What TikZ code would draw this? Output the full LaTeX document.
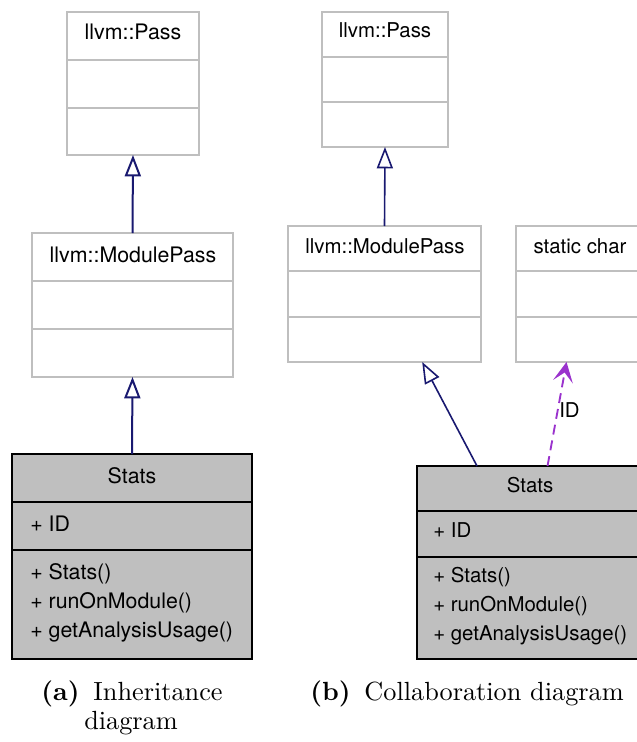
\documentclass[tikz,border=0pt]{standalone}
\usepackage{fontspec}
\usepackage{xcolor}
\usepackage{tikz}
\usetikzlibrary{arrows.meta}
\newfontfamily\helvfont{TeX Gyre Heros}
\newfontfamily\capfont{lmroman10-regular}[Extension=.otf, BoldFont=lmroman10-bold]
\definecolor{inhblue}{HTML}{191970}
\definecolor{usepurple}{HTML}{9A32CD}
\definecolor{boxgray}{HTML}{BFBFBF}

\begin{document}
\begin{tikzpicture}[x=0.75pt, y=-0.75pt,
    classbox/.style={draw=boxgray, line width=1.5pt, inner sep=0pt, outer sep=0pt, anchor=north west},
    thisbox/.style={classbox, draw=black, fill=boxgray},
    grayline/.style={draw=boxgray, line width=1.5pt},
    blackline/.style={draw=black, line width=1.5pt},
    bigtext/.style={font=\helvfont\fontsize{16}{19}\selectfont, inner sep=0pt},
    smalltext/.style={font=\helvfont\fontsize{15.3}{18}\selectfont, inner sep=0pt},
    inherit/.style={draw=inhblue, line width=1.5pt, -{Triangle[open, length=16pt, width=12pt]}},
    uses/.style={draw=usepurple, line width=1.4pt, dash pattern=on 7.5pt off 4.5pt,
        -{Stealth[length=15pt, width=15pt, inset=7pt]}},
    caption/.style={font=\capfont\fontsize{19.7}{23}\selectfont, inner sep=0pt, anchor=base}]
    \useasboundingbox (0,0) rectangle (636,742);

    % (a) inheritance diagram
    \node (passA)   [classbox, minimum width=99pt,    minimum height=107.25pt] at (67,12) {};
    \node (moduleA) [classbox, minimum width=150.75pt, minimum height=108pt]   at (32,233) {};
    \node (statsA)  [thisbox,  minimum width=180pt,    minimum height=153.75pt] at (12,454) {};
    \draw[grayline] (67,60) -- (199,60);
    \draw[grayline] (67,108) -- (199,108);
    \draw[grayline] (32,281) -- (233,281);
    \draw[grayline] (32,329) -- (233,329);
    \draw[blackline] (12,502) -- (252,502);
    \draw[blackline] (12,550) -- (252,550);
    \node (passAname)   [bigtext, anchor=base] at (133,40)  {llvm::Pass};
    \node (moduleAname) [bigtext, anchor=base] at (133,262) {llvm::ModulePass};
    \node (statsAname)  [bigtext, anchor=base] at (132,483) {Stats};
    \node (statsAattr)  [bigtext, anchor=base west] at (30,531) {+ ID};
    \node (statsAop1)   [bigtext, anchor=base west] at (30,579) {+ Stats()};
    \node (statsAop2)   [bigtext, anchor=base west] at (30,608) {+ runOnModule()};
    \node (statsAop3)   [bigtext, anchor=base west] at (30,637) {+ getAnalysisUsage()};
    \draw[inherit] (moduleA.north) -- (passA.south);
    \draw[inherit] (statsA.north) -- (moduleA.south);

    % (b) collaboration diagram
    \node (passB)   [classbox, minimum width=94.5pt,  minimum height=101.25pt] at (322,12) {};
    \node (moduleB) [classbox, minimum width=144.75pt, minimum height=102pt]   at (288,226) {};
    \node (charB)   [classbox, minimum width=97.5pt,  minimum height=102pt]    at (516,226) {};
    \node (statsB)  [thisbox,  minimum width=170.25pt, minimum height=144.75pt] at (417,466) {};
    \draw[grayline] (322,57) -- (448,57);
    \draw[grayline] (322,102) -- (448,102);
    \draw[grayline] (288,271) -- (481,271);
    \draw[grayline] (288,317) -- (481,317);
    \draw[grayline] (516,271) -- (646,271);
    \draw[grayline] (516,317) -- (646,317);
    \draw[blackline] (417,511) -- (644,511);
    \draw[blackline] (417,557) -- (644,557);
    \node (passBname)   [smalltext, anchor=base] at (385,38)  {llvm::Pass};
    \node (moduleBname) [smalltext, anchor=base] at (385,253) {llvm::ModulePass};
    \node (charBname)   [smalltext, anchor=base] at (580,253) {static char};
    \node (statsBname)  [smalltext, anchor=base] at (530,492) {Stats};
    \node (statsBattr)  [smalltext, anchor=base west] at (433,537) {+ ID};
    \node (statsBop1)   [smalltext, anchor=base west] at (433,582) {+ Stats()};
    \node (statsBop2)   [smalltext, anchor=base west] at (433,611) {+ runOnModule()};
    \node (statsBop3)   [smalltext, anchor=base west] at (433,640) {+ getAnalysisUsage()};
    \draw[inherit, line width=1.2pt] (moduleB.north) -- (passB.south);
    \draw[inherit, line width=1.2pt] (statsB.119) -- (moduleB.-61);
    \draw[uses] (statsB.80) -- (charB.-102)
        node (idlabel) [smalltext, midway, right, xshift=1pt, yshift=3pt] {ID};

    % sub-captions
    \node (capA1) [caption] at (132,700) {\textbf{(a)}\hspace{0.53em}Inheritance};
    \node (capA2) [caption] at (131,729) {diagram};
    \node (capB)  [caption] at (467,700) {\textbf{(b)}\hspace{0.53em}Collaboration diagram};
\end{tikzpicture}
\end{document}
